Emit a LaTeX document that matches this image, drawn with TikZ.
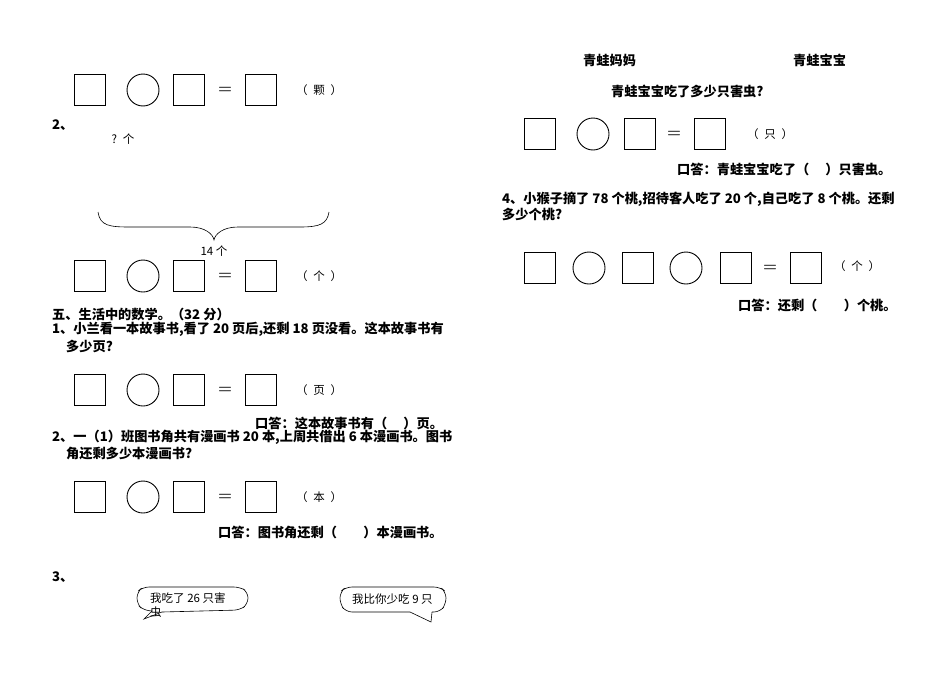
\documentclass[tikz,border=0pt]{standalone}
\usepackage{fontspec}
\newfontfamily\cjk{Noto Sans CJK SC}
\begin{document}
\begin{tikzpicture}[x=1pt,y=-1pt,
  sq/.style={draw,minimum size=31pt,inner sep=0pt,line width=0.9pt},
  cir/.style={draw,circle,minimum size=32pt,inner sep=0pt,line width=0.9pt},
  eq/.style={font=\fontsize{16}{16}\selectfont\bfseries,inner sep=0pt},
  tb/.style={font=\cjk\bfseries\fontsize{13.2}{14}\selectfont,inner sep=0pt,anchor=west},
  ts/.style={font=\cjk\fontsize{11.5}{13}\selectfont,inner sep=0pt}]
\useasboundingbox (0,0) rectangle (950,672);
\foreach \y/\u/\n in {90/颗/a,276/个/b,390/页/c,497/本/d}{
  \node[sq] (\n1) at (90,\y) {};
  \node[cir] (\n2) at (143,\y) {};
  \node[sq] (\n3) at (189,\y) {};
  \node[eq] (\n4) at (225,\y) {=};
  \node[sq] (\n5) at (261,\y) {};
  \node[ts] (\n6) at (319,\y) {（\enspace\u\enspace）};
}
\node[tb] (q2) at (52,125) {2、};
\node[ts] (qa) at (123,139) {?\enspace 个};
\draw[line width=0.6pt] (98,212) .. controls (100,226) and (110,227) .. (130,227) -- (190,227) .. controls (205,227) and (213,234) .. (214,240) .. controls (215,234) and (223,227) .. (238,227) -- (300,227) .. controls (320,227) and (327,224) .. (329,212);
\node[ts] (q14) at (214,251) {14 个};
\node[tb] (h5) at (52,314) {五、生活中的数学。（32 分）};
\node[tb] (p1a) at (52,329) {1、小兰看一本故事书,看了 20 页后,还剩 18 页没看。这本故事书有};
\node[tb] (p1b) at (66,346) {多少页?};
\node[tb] (p1c) at (255,423) {口答：这本故事书有（\quad\ ）页。};
\node[tb] (p2a) at (52,437) {2、一（1）班图书角共有漫画书 20 本,上周共借出 6 本漫画书。图书};
\node[tb] (p2b) at (66,454) {角还剩多少本漫画书?};
\node[tb] (p2c) at (218,532) {口答：图书角还剩（\qquad）本漫画书。};
\node[tb] (q3) at (52,577) {3、};
\draw[line width=0.6pt,rounded corners=6pt] (162,612) -- (240,610) -- (248,604) -- (248,592) -- (240,587) -- (143,587) -- (137,592) -- (137,604) -- (143,610) -- (152,611);
\draw[line width=0.6pt] (152,611) -- (144,619) -- (162,612);
\node[ts,anchor=west] (b1) at (150,598) {我吃了 26 只害};
\node[ts,anchor=west] (b1b) at (150,612) {虫};
\draw[line width=0.6pt,rounded corners=6pt] (410,612) -- (346,612) -- (340,604) -- (340,592) -- (346,587) -- (440,587) -- (446,592) -- (446,604) -- (440,612) -- (432,612);
\draw[line width=0.6pt] (410,612) -- (431,622) -- (432,612);
\node[ts,anchor=west] (b2) at (352,599) {我比你少吃 9 只};
\node[tb] (r1) at (583,60) {青蛙妈妈};
\node[tb] (r2) at (793,60) {青蛙宝宝};
\node[tb] (r3) at (611,91) {青蛙宝宝吃了多少只害虫?};
\node[sq] (e1) at (540,134) {};
\node[cir] (e2) at (593,134) {};
\node[sq] (e3) at (640,134) {};
\node[eq] (e4) at (674,134) {=};
\node[sq] (e5) at (710,134) {};
\node[ts] (e6) at (770,134) {（\enspace 只\enspace）};
\node[tb] (r4) at (677,169) {口答：青蛙宝宝吃了（\quad\ ）只害虫。};
\node[tb] (r5) at (502,199) {4、小猴子摘了 78 个桃,招待客人吃了 20 个,自己吃了 8 个桃。还剩};
\node[tb] (r6) at (502,214) {多少个桃?};
\node[sq] (f1) at (540,268) {};
\node[cir] (f2) at (589,268) {};
\node[sq] (f3) at (638,268) {};
\node[cir] (f4) at (686,268) {};
\node[sq] (f5) at (736,268) {};
\node[eq] (f6) at (770,268) {=};
\node[sq] (f7) at (806,268) {};
\node[ts] (f8) at (857,266) {（\enspace 个\enspace）};
\node[tb] (r7) at (738,305) {口答：还剩（\qquad）个桃。};
\end{tikzpicture}
\end{document}
